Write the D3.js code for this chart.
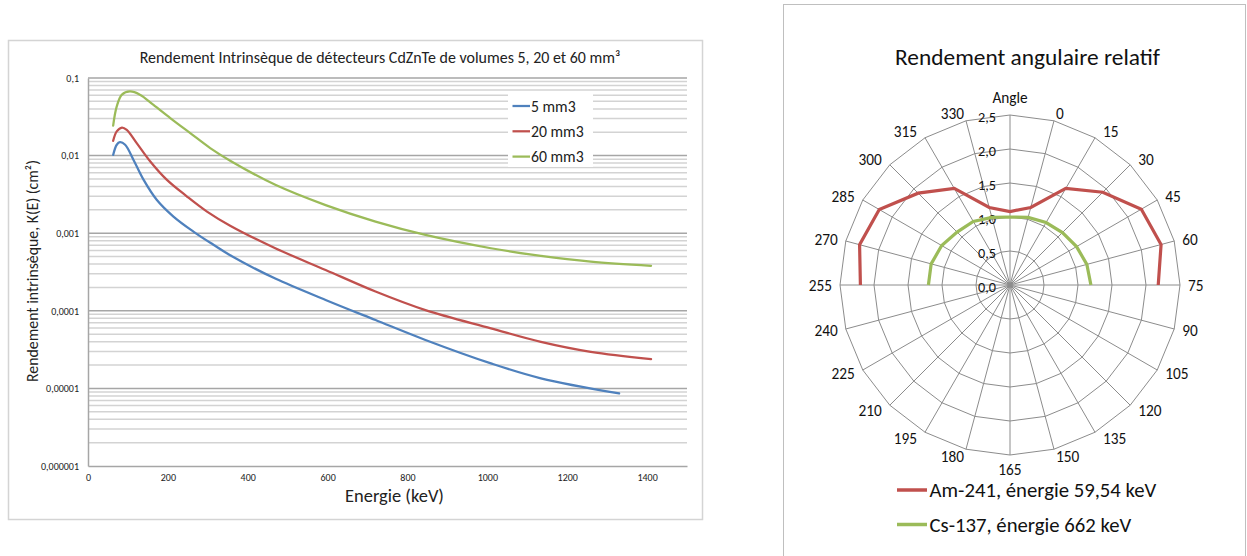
<!DOCTYPE html>
<html><head><meta charset="utf-8">
<script src="https://cdn.jsdelivr.net/npm/d3@7"></script>
<style>
body{margin:0;background:#fff;}
svg{display:block;}
text{font-family:Carlito, Lato, "Open Sans", sans-serif;}
</style>
</head><body>
<svg id="c" width="1247" height="556"></svg>
<script>
// ---------- Data: left chart (intrinsic efficiency vs energy) ----------
const energy5  = [63,72,80,93,114,139,172,214,264,314,356,469,595,720,845,1009,1134,1330];
const k5       = [0.0102,0.0138,0.0149,0.0138,0.0088,0.0049,0.0027,0.00164,0.00105,0.00071,0.00052,0.00026,0.000138,0.000076,0.0000421,0.000021,0.0000135,0.0000086];
const energy20 = [63,72,85,97,122,156,197,248,298,356,469,595,720,845,1009,1134,1259,1410];
const k20      = [0.0155,0.0205,0.023,0.0215,0.0145,0.0084,0.0049,0.00297,0.0019,0.00125,0.00064,0.000336,0.000177,0.000102,0.0000594,0.0000398,0.0000296,0.0000239];
const energy60 = [63,72,85,105,130,164,206,256,306,356,469,595,720,845,1009,1134,1259,1410];
const k60      = [0.0244,0.043,0.061,0.067,0.061,0.045,0.0305,0.0195,0.0125,0.0086,0.0042,0.0023,0.00141,0.00095,0.00064,0.00051,0.00043,0.00038];
const seriesNames = ["5 mm3","20 mm3","60 mm3"];
const xTicks = [0,200,400,600,800,1000,1200,1400];
const yTicks = [0.1,0.01,0.001,0.0001,0.00001,0.000001];
const yTickLabels = ["0,1","0,01","0,001","0,0001","0,00001","0,000001"];
const leftTitle = "Rendement Intrinsèque de détecteurs CdZnTe de volumes 5, 20 et 60 mm³";
const xTitle = "Energie (keV)";
const yTitle = "Rendement intrinsèque, K(E) (cm²)";

// ---------- Data: right chart (radar) ----------
const polarCategories = ["Angle","0","15","30","45","60","75","90","105","120","135","150","165","180","195","210","225","240","255","270","285","300","315","330"];
const am241 = [1.08,1.18,1.64,1.93,2.23,2.30,2.18,null,null,null,null,null,null,null,null,null,null,null,2.20,2.29,2.22,1.91,1.64,1.18];
const cs137 = [1.00,1.03,1.06,1.09,1.13,1.17,1.19,null,null,null,null,null,null,null,null,null,null,null,1.20,1.20,1.16,1.10,1.08,1.03];
const polarTicks = [0,0.5,1,1.5,2,2.5];
const polarTickLabels = ["0,0","0,5","1,0","1,5","2,0","2,5"];
const polarNames = ["Am-241, énergie 59,54 keV","Cs-137, énergie 662 keV"];
const polarTitle = "Rendement angulaire relatif";

const blue="#4F81BD", red="#C0504D", green="#9BBB59";
const svg = d3.select("#c");

function sizeFor(str, targetW){
  const t = svg.append("text").attr("font-size",100).text(str);
  const w = t.node().getComputedTextLength(); t.remove();
  return 100*targetW/w;
}

// ================= LEFT CHART =================
svg.append("rect").attr("x",8.5).attr("y",40.5).attr("width",694).attr("height",479)
  .attr("fill","#fff").attr("stroke","#d4d4d4").attr("stroke-width",1.5);

const x = d3.scaleLinear().domain([0,1500]).range([88,687]);
const y = d3.scaleLog().domain([1e-6,0.1]).range([466,78]);

const grid = svg.append("g");
const minor = [];
yTicks.slice(1).forEach(d => { for(let m=2;m<=9;m++) minor.push(d*m); });
grid.selectAll("line.minor").data(minor).join("line")
  .attr("x1",x(0)).attr("x2",x(1500)).attr("y1",d=>y(d)).attr("y2",d=>y(d))
  .attr("stroke","#d3d3d3").attr("stroke-width",1.5);
grid.selectAll("line.major").data(yTicks.slice(0,-1)).join("line")
  .attr("x1",x(0)).attr("x2",x(1500)).attr("y1",d=>y(d)).attr("y2",d=>y(d))
  .attr("stroke","#a6a6a6").attr("stroke-width",1.5);

// axes
const fsTick = sizeFor("0,000001", 38);
const yAxis = svg.append("g").attr("transform",`translate(${x(0)},0)`)
  .call(d3.axisLeft(y).tickValues(yTicks).tickFormat((d,i)=>yTickLabels[i]).tickSize(0).tickPadding(9));
yAxis.select(".domain").attr("stroke","#a6a6a6").attr("stroke-width",1.5);
yAxis.selectAll("text").attr("font-size",fsTick).attr("font-family",null).attr("fill","#222");

const xAxis = svg.append("g").attr("transform",`translate(0,${y(1e-6)})`)
  .call(d3.axisBottom(x).tickValues(xTicks).tickFormat(d=>String(d)).tickSize(0).tickPadding(8));
xAxis.select(".domain").attr("stroke","#a6a6a6").attr("stroke-width",1.5);
xAxis.selectAll("text").attr("font-size",fsTick).attr("font-family",null).attr("fill","#222");

// titles
svg.append("text").attr("x",380).attr("y",57).attr("text-anchor","middle").attr("dominant-baseline","central")
  .attr("font-size",sizeFor(leftTitle,481)).attr("fill","#222").text(leftTitle);
svg.append("text").attr("x",394.5).attr("y",495).attr("text-anchor","middle").attr("dominant-baseline","central")
  .attr("font-size",sizeFor(xTitle,99)).attr("fill","#222").text(xTitle);
svg.append("text").attr("transform","translate(32,271) rotate(-90)").attr("text-anchor","middle").attr("dominant-baseline","central")
  .attr("font-size",sizeFor(yTitle,222)).attr("fill","#222").text(yTitle);

// lines
const line = d3.line().x(d=>x(d[0])).y(d=>y(d[1])).curve(d3.curveCatmullRom.alpha(0.5));
const series = [
  {pts:d3.zip(energy5,k5), c:blue},
  {pts:d3.zip(energy20,k20), c:red},
  {pts:d3.zip(energy60,k60), c:green}
];
svg.append("g").selectAll("path").data(series).join("path")
  .attr("d",d=>line(d.pts)).attr("fill","none").attr("stroke",d=>d.c).attr("stroke-width",2.25)
  .attr("stroke-linecap","round");

// legend
const lg = svg.append("g");
lg.append("rect").attr("x",508).attr("y",93).attr("width",85).attr("height",74).attr("fill","#fff");
const fsLeg = sizeFor("20 mm3",52.7);
series.forEach((s,i)=>{
  const yy = 106 + i*25.3;
  lg.append("line").attr("x1",512.5).attr("x2",530).attr("y1",yy).attr("y2",yy).attr("stroke",s.c).attr("stroke-width",2.25);
  lg.append("text").attr("x",531).attr("y",yy).attr("dominant-baseline","central").attr("font-size",fsLeg).attr("fill","#222").text(seriesNames[i]);
});

// ================= RIGHT CHART (radar) =================
svg.append("rect").attr("x",783.5).attr("y",4.5).attr("width",462).attr("height",560)
  .attr("fill","#fff").attr("stroke","#bfbfbf").attr("stroke-width",1);

const cx=1010, cy=285;
const r = d3.scaleLinear().domain([0,2.5]).range([0,170]);
const n = polarCategories.length, step = 2*Math.PI/n;
const P = (i,v) => [cx + r(v)*Math.sin(i*step), cy - r(v)*Math.cos(i*step)];
const pg = svg.append("g");
// rings
polarTicks.slice(1).forEach(t=>{
  const pts = d3.range(n).map(i=>P(i,t));
  pg.append("path").attr("d", d3.line()(pts)+"Z").attr("fill","none").attr("stroke","#8c8c8c").attr("stroke-width",1);
});
// spokes
pg.selectAll("line.sp").data(d3.range(n)).join("line")
  .attr("x1",cx).attr("y1",cy).attr("x2",i=>P(i,2.5)[0]).attr("y2",i=>P(i,2.5)[1])
  .attr("stroke","#8c8c8c").attr("stroke-width",1);

// radial tick labels
const fsR = sizeFor("2,5",18);
pg.selectAll("text.rt").data(polarTicks).join("text")
  .attr("x",996).attr("y",d=>cy - r(d) + 1.5).attr("text-anchor","end").attr("dominant-baseline","central")
  .attr("font-size",fsR).attr("fill","#111").text((d,i)=>polarTickLabels[i]);

// category labels
const fsC = sizeFor("330",23.3);
polarCategories.forEach((lab,i)=>{
  const a=i*step, s=Math.sin(a), c=Math.cos(a);
  const [vx,vy]=P(i,2.5);
  const t = pg.append("text").attr("text-anchor","middle").attr("dominant-baseline","central")
    .attr("font-size",fsC).attr("fill","#111").text(lab);
  const w = t.node().getComputedTextLength();
  let lx, ly;
  if (Math.abs(s)<0.01){ lx=vx; ly=vy - c*(c>0 ? 18 : 14); }
  else { const gap = Math.abs(s)>0.4 ? 8 : 2; lx = vx + Math.sign(s)*(w/2+gap); ly = vy - c*7.5; }
  t.attr("x",lx).attr("y",ly);
});

// series
function ordered(vals){
  let k = vals.findIndex((v,i)=>v==null && vals[(i+1)%n]!=null);
  if (k<0) return {idx:d3.range(n), closed:true};
  return {idx:d3.range(1,n+1).map(j=>(k+j)%n), closed:false};
}
const radial = [{v:am241,c:red},{v:cs137,c:green}];
radial.forEach(sr=>{
  const o = ordered(sr.v);
  const gen = d3.line().defined(i=>sr.v[i]!=null).x(i=>P(i,sr.v[i])[0]).y(i=>P(i,sr.v[i])[1]);
  if (o.closed) gen.curve(d3.curveLinearClosed);
  pg.append("path").attr("d",gen(o.idx)).attr("fill","none").attr("stroke",sr.c).attr("stroke-width",3.2)
    .attr("stroke-linejoin","miter");
});

// title
svg.append("text").attr("x",1027.5).attr("y",57).attr("text-anchor","middle").attr("dominant-baseline","central")
  .attr("font-size",sizeFor(polarTitle,265)).attr("fill","#111").text(polarTitle);

// legend
const fsPL = sizeFor(polarNames[0],227);
radial.forEach((sr,i)=>{
  const yy = 490 + i*34.5;
  svg.append("line").attr("x1",897).attr("x2",927).attr("y1",yy).attr("y2",yy).attr("stroke",sr.c).attr("stroke-width",3.5);
  svg.append("text").attr("x",929.5).attr("y",yy).attr("dominant-baseline","central").attr("font-size",fsPL).attr("fill","#111").text(polarNames[i]);
});
</script>
</body></html>
